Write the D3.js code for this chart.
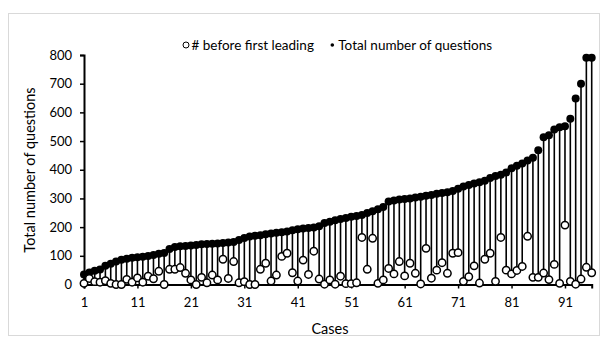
<!DOCTYPE html>
<html>
<head>
<meta charset="utf-8">
<script src="https://cdn.jsdelivr.net/npm/d3@7"></script>
<style>
  html, body { margin: 0; padding: 0; background: #fff; }
  svg { display: block; font-family: Lato, "Open Sans", sans-serif; }
</style>
</head>
<body>
<svg id="chart" width="603" height="340"></svg>
<script>
// ---- data ----
const cases = d3.range(1, 97);
const beforeFirstLeading = [
  4, 21, 10, 8, 13, 4, 0, 0, 18, 8,
  23, 8, 29, 20, 46, 0, 53, 53, 59, 39,
  16, 0, 25, 6, 33, 16, 88, 21, 80, 6,
  10, 0, 0, 53, 74, 12, 33, 98, 109, 41,
  12, 85, 35, 116, 19, 1, 16, 1, 29, 3,
  3, 6, 164, 53, 161, 4, 16, 56, 37, 80,
  30, 74, 39, 2, 126, 22, 50, 76, 39, 109,
  111, 11, 27, 65, 5, 88, 109, 11, 164, 50,
  37, 49, 63, 168, 25, 25, 40, 17, 70, 4,
  207, 11, 1, 19, 60, 41
];
const totalQuestions = [
  35, 42, 48, 52, 65, 72, 80, 86, 90, 93,
  95, 97, 99, 103, 107, 110, 124, 131, 133, 134,
  136, 138, 140, 141, 142, 143, 145, 146, 148, 155,
  162, 167, 170, 172, 175, 178, 180, 182, 185, 189,
  193, 195, 197, 199, 203, 214, 219, 224, 228, 232,
  236, 239, 242, 249, 255, 262, 270, 289, 293, 296,
  298, 300, 303, 306, 309, 312, 316, 319, 322, 326,
  334, 342, 347, 352, 356, 362, 371, 378, 383, 390,
  405, 414, 422, 432, 442, 468, 513, 520, 540, 548,
  552, 578, 648, 700, 790, 790
];
const yTicks = [0, 100, 200, 300, 400, 500, 600, 700, 800];
const xTickCases = [1, 11, 21, 31, 41, 51, 61, 71, 81, 91];
const legendLabels = ["# before first leading", "Total number of questions"];
const yTitle = "Total number of questions";
const xTitle = "Cases";

// ---- layout ----
const svg = d3.select("#chart");
const mLeft = 84, mRight = 591.7, mTop = 55, mBottom = 284.5;

svg.append("rect").attr("x", 8.5).attr("y", 13.5).attr("width", 591).attr("height", 322)
  .attr("fill", "#fff").attr("stroke", "#d9d9d9").attr("stroke-width", 1);

const x = d3.scaleLinear().domain([1, 96]).range([mLeft, mRight]);
const y = d3.scaleLinear().domain([0, 800]).range([mBottom, mTop]);

const rows = cases.map((c, i) => ({ c, a: beforeFirstLeading[i], t: totalQuestions[i] }));

// high-low lines
svg.append("g").selectAll("line").data(rows).join("line")
  .attr("x1", d => x(d.c)).attr("x2", d => x(d.c))
  .attr("y1", d => y(Math.min(d.a, d.t))).attr("y2", d => y(Math.max(d.a, d.t)))
  .attr("stroke", "#000").attr("stroke-width", 1.6);

// axes
const yAxis = d3.axisLeft(y).tickValues(yTicks).tickSize(4).tickPadding(8);
const gy = svg.append("g").attr("transform", `translate(${mLeft},0)`).call(yAxis);
gy.select(".domain").attr("stroke-width", 2);
gy.selectAll(".tick line").attr("stroke-width", 1.5);
gy.selectAll("text").attr("font-size", 13).attr("font-family", "Lato").attr("fill", "#000");

const xAxis = d3.axisBottom(x).tickValues(xTickCases).tickSize(4).tickPadding(9).tickFormat(d3.format("d"));
const gx = svg.append("g").attr("transform", `translate(0,${mBottom})`).call(xAxis);
gx.select(".domain").attr("stroke-width", 2);
gx.selectAll(".tick line").attr("stroke-width", 1.5);
gx.selectAll("text").attr("font-size", 13).attr("font-family", "Lato").attr("fill", "#000");

// markers
svg.append("g").selectAll("circle").data(rows).join("circle")
  .attr("cx", d => x(d.c)).attr("cy", d => y(d.t)).attr("r", 4)
  .attr("fill", "#000");
svg.append("g").selectAll("circle").data(rows).join("circle")
  .attr("cx", d => x(d.c)).attr("cy", d => y(d.a)).attr("r", 3.7)
  .attr("fill", "#fff").attr("stroke", "#000").attr("stroke-width", 1.5);

// titles
svg.append("text").attr("transform", "translate(35,170) rotate(-90)")
  .attr("text-anchor", "middle").attr("font-size", 14.5).text(yTitle);
svg.append("text").attr("x", 330).attr("y", 334)
  .attr("text-anchor", "middle").attr("font-size", 14.5).text(xTitle);

// legend
const lg = svg.append("g");
lg.append("circle").attr("cx", 186).attr("cy", 45).attr("r", 3)
  .attr("fill", "#fff").attr("stroke", "#000").attr("stroke-width", 1);
lg.append("text").attr("x", 191.5).attr("y", 49.5).attr("font-size", 13.5).text(legendLabels[0]);
lg.append("circle").attr("cx", 332.3).attr("cy", 45).attr("r", 1.8).attr("fill", "#000");
lg.append("text").attr("x", 338.3).attr("y", 49.5).attr("font-size", 13.5).text(legendLabels[1]);
</script>
</body>
</html>
